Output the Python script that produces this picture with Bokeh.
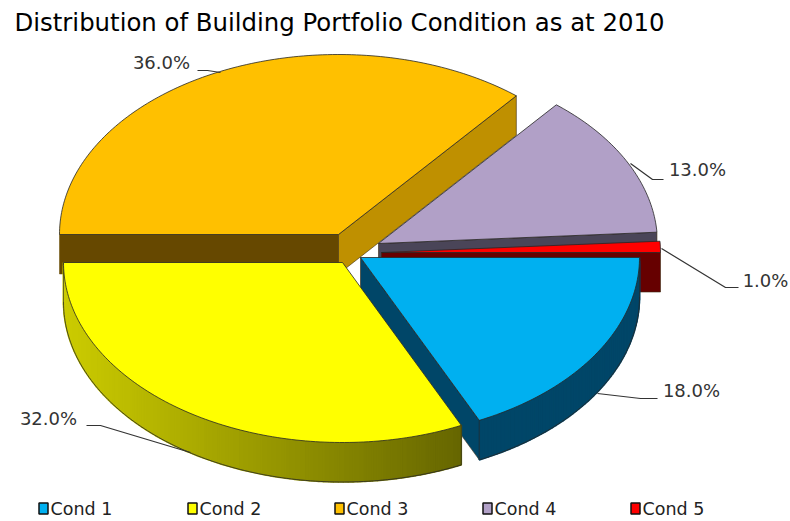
import math

from bokeh.core.properties import value
from bokeh.embed import file_html
from bokeh.models import ColumnDataSource
from bokeh.plotting import figure
from bokeh.resources import INLINE

# Portfolio shares by building condition
categories = ["Cond 1", "Cond 2", "Cond 3", "Cond 4", "Cond 5"]
shares = [18.0, 32.0, 36.0, 13.0, 1.0]
chart_title = "Distribution of Building Portfolio Condition as at 2010"

# Styling and layout of the exploded pie, in page pixels
top_colors = ["#00b0f0", "#ffff00", "#ffc000", "#b1a0c7", "#ff0000"]
start_face_colors = ["#004668", "#6b6b00", "#664800", "#4a4558", "#660000"]
end_face_colors = ["#004668", "#6b6b00", "#bf9000", "#4a4558", "#660000"]
rim_left = [(0, 70, 104), (204, 204, 0), (102, 72, 0), (74, 69, 88), (102, 0, 0)]
rim_right = [(0, 70, 104), (100, 100, 0), (102, 72, 0), (74, 69, 88), (102, 0, 0)]
slice_centres = [(360, 257), (342, 262), (338, 234), (378, 243), (381, 252)]
draw_order = [2, 3, 4, 0, 1]
RX, RY, DEPTH = 279, 180, 39.5
EDGE = "#262626"

label_spots = [(691, 390), (48, 418), (161, 62), (697, 169), (765, 280)]
leader_paths = [
    [(597, 393), (640, 398), (657, 398)],
    [(190, 452), (100, 425), (86, 425)],
    [(220, 72), (207, 70), (197, 70)],
    [(630, 163), (652, 179), (663, 179)],
    [(661, 248), (725, 287), (738, 287)],
]
legend_swatch_x = [43, 192, 339, 487, 635]
LEGEND_Y = 508


def rim_point(cx, cy, deg, drop=0.0):
    a = math.radians(deg)
    return cx + RX * math.cos(a), cy + RY * math.sin(a) + drop


def arc(cx, cy, start, stop, drop=0.0):
    n = max(2, int(abs(stop - start)) + 2)
    return [rim_point(cx, cy, start + (stop - start) * i / (n - 1), drop) for i in range(n)]


def mix(c0, c1, t):
    return "#%02x%02x%02x" % tuple(round(a + (b - a) * t) for a, b in zip(c0, c1))


p = figure(
    width=790, height=521, x_range=(0, 790), y_range=(521, 0),
    output_backend="svg", toolbar_location=None, min_border=0,
    background_fill_color="white", border_fill_color="white", outline_line_color=None,
)
p.axis.visible = False
p.grid.visible = False


def shape(points, fill, line=EDGE, width=0.8):
    p.patch([q[0] for q in points], [q[1] for q in points],
            fill_color=fill, line_color=line, line_width=width)


# Cumulative angles run clockwise from three o'clock
angles = []
running = 0.0
for s in shares:
    angles.append((running * 3.6, (running + s) * 3.6))
    running += s

for i in draw_order:
    a0, a1 = angles[i]
    cx, cy = slice_centres[i]

    # Radial cut faces that turn towards the viewer
    if math.cos(math.radians(a0)) < 0:
        edge = rim_point(cx, cy, a0)
        shape([(cx, cy), edge, (edge[0], edge[1] + DEPTH), (cx, cy + DEPTH)],
              start_face_colors[i], line=start_face_colors[i], width=0.5)
    if math.cos(math.radians(a1)) > 0:
        edge = rim_point(cx, cy, a1)
        shape([(cx, cy), edge, (edge[0], edge[1] + DEPTH), (cx, cy + DEPTH)],
              end_face_colors[i], line="#3a2a10", width=0.6)

    # Outer wall, shaded in narrow strips along the visible front arc
    f0, f1 = max(a0, 0.0), min(a1, 180.0)
    if f1 > f0:
        steps = max(1, int(f1 - f0))
        for k in range(steps):
            d0 = f0 + (f1 - f0) * k / steps
            d1 = f0 + (f1 - f0) * (k + 1) / steps
            x_mid = rim_point(cx, cy, (d0 + d1) / 2)[0]
            colour = mix(rim_left[i], rim_right[i], min(1, max(0, (x_mid - (cx - RX)) / (1.45 * RX))))
            strip = arc(cx, cy, d0, d1) + arc(cx, cy, d1, d0, DEPTH)
            shape(strip, colour, line=colour, width=1.6)
        lower = arc(cx, cy, f0, f1, DEPTH)
        p.line([q[0] for q in lower], [q[1] for q in lower], line_color=EDGE, line_width=0.8)
        for d in (f0, f1):
            q = rim_point(cx, cy, d)
            p.line([q[0], q[0]], [q[1], q[1] + DEPTH], line_color=EDGE, line_width=0.6)

    # Top surface
    shape([(cx, cy)] + arc(cx, cy, a0, a1), top_colors[i])

# Leader lines and percentage labels
p.multi_line([[q[0] for q in path] for path in leader_paths],
             [[q[1] for q in path] for path in leader_paths],
             line_color="#333333", line_width=1.2)
labels = ColumnDataSource(dict(
    x=[q[0] for q in label_spots],
    y=[q[1] for q in label_spots],
    text=[f"{s:.1f}%" for s in shares],
))
p.text("x", "y", "text", source=labels, text_font=value("DejaVu Sans"), text_font_size="18px",
       text_color="#333333", text_align="center", text_baseline="middle")

# Title
p.text([14], [22], [chart_title], text_font=value("DejaVu Sans"), text_font_size="24.4px",
       text_font_style="normal", text_color="#000000", text_baseline="middle")

# Legend row
legend_source = ColumnDataSource(dict(
    x=legend_swatch_x,
    y=[LEGEND_Y] * len(categories),
    text_x=[x + 7 for x in legend_swatch_x],
    color=top_colors,
    text=categories,
))
p.rect("x", "y", width=9, height=11, source=legend_source, fill_color="color",
       line_color="#111111", line_width=1.5)
p.text("text_x", "y", "text", source=legend_source, text_font=value("DejaVu Sans"),
       text_font_size="17.5px", text_color="#222222", text_baseline="middle")

open("out.html", "w").write(file_html(p, INLINE))
